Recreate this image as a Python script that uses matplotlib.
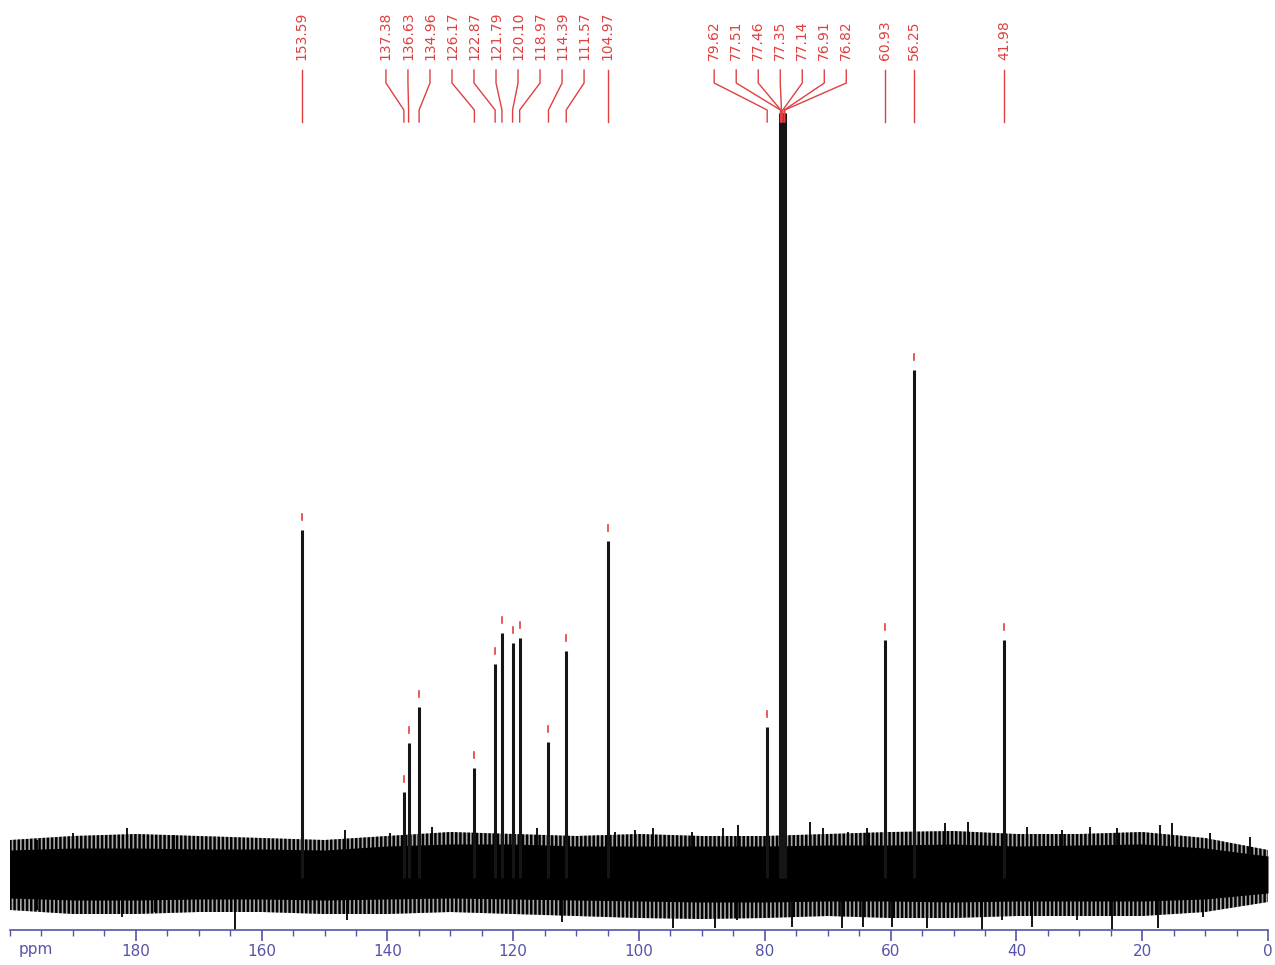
import matplotlib
matplotlib.use("Agg")
import matplotlib.pyplot as plt
import numpy as np

# peak list (ppm) and peak heights (baseline = 0)
peak_ppm = [153.59, 137.38, 136.63, 134.96, 126.17, 122.87, 121.79, 120.10,
            118.97, 114.39, 111.57, 104.97, 79.62, 77.51, 77.46, 77.35,
            77.14, 76.91, 76.82, 60.93, 56.25, 41.98]
peak_height = [348, 86, 135, 171, 110, 214, 245, 235,
               240, 136, 227, 337, 151, 765, 765, 765,
               765, 765, 765, 238, 508, 238]
solvent = [77.51, 77.46, 77.35, 77.14, 76.91, 76.82]   # CDCl3, no pick marker

# baseline noise: solid core, outer fringe, and the spikes that stick out
env_ppm = [200, 190, 180, 170, 160, 150, 140, 130, 120, 110, 100,
           90, 80, 70, 60, 50, 40, 30, 20, 10, 0]
core_top = [28, 30, 30, 29, 29, 28, 32, 34, 34, 32, 32,
            32, 32, 33, 33, 34, 32, 33, 34, 30, 22]
core_bot = [-20, -22, -22, -21, -21, -22, -21, -20, -21, -22, -23,
            -24, -24, -23, -23, -24, -23, -23, -23, -21, -15]
fringe_top = [38, 42, 44, 42, 40, 38, 42, 46, 44, 42, 44,
              42, 42, 44, 46, 47, 44, 44, 46, 40, 28]
fringe_bot = [-32, -36, -36, -34, -34, -36, -36, -34, -36, -38, -40,
              -41, -40, -38, -40, -40, -38, -38, -38, -34, -24]

up_ppm = [195.7, 190.0, 181.4, 174.0, 146.7, 139.6, 132.9, 116.2, 103.8, 100.6,
          97.8, 91.6, 86.6, 84.3, 72.8, 70.7, 66.8, 63.8, 51.4, 47.7,
          38.3, 32.8, 28.3, 24.0, 17.2, 15.3, 9.2, 2.9]
up_h = [38, 45, 50, 43, 48, 45, 51, 50, 46, 48,
        50, 46, 50, 53, 56, 50, 46, 50, 55, 56,
        51, 48, 51, 50, 53, 55, 45, 41]
down_ppm = [195.7, 182.2, 177.0, 164.2, 146.4, 123.7, 112.2, 94.6, 87.9, 84.4,
            75.7, 67.7, 64.4, 59.8, 54.2, 45.5, 42.3, 37.5, 30.4, 24.8,
            17.5, 10.3]
down_h = [-32, -39, -34, -52, -42, -34, -44, -50, -50, -42,
          -49, -50, -49, -49, -50, -52, -42, -49, -42, -52,
          -50, -39]

major_ticks = [180, 160, 140, 120, 100, 80, 60, 40, 20, 0]

red = "#e04040"
blue = "#5454aa"
ink = "#151515"

plt.rcParams["hatch.linewidth"] = 1.8
plt.rcParams["hatch.color"] = "black"

fig = plt.figure(figsize=(12.75, 9.65), dpi=100)
ax = fig.add_axes([10/1275, 35/965, 1258/1275, 930/965])
ax.set_xlim(200, 0)
ax.set_ylim(-52, 878)

# noise band (fringe is hatched so it reads as dense noise hairs)
ax.fill_between(env_ppm, fringe_bot, fringe_top, facecolor="#a8a8a8",
                edgecolor="black", hatch="||||", lw=0)
ax.fill_between(env_ppm, core_bot, core_top, color="black", lw=0)
ax.vlines(up_ppm, 0, up_h, color="black", lw=1.3)
ax.vlines(down_ppm, 0, down_h, color="black", lw=1.3)

# peaks
ax.vlines(peak_ppm, 0, peak_height, color=ink, lw=2.2)

# pick markers above peaks
for p, h in zip(peak_ppm, peak_height):
    if p in solvent:
        continue
    ax.plot([p, p], [h + 10, h + 16], color=red, lw=1.2)

# spread label positions so that they do not collide
gap = 3.5
clusters = [[p] for p in peak_ppm]
changed = True
while changed:
    changed = False
    spots = []
    for c in clusters:
        mid = np.mean(c)
        spots.append([mid + gap * ((len(c) - 1) / 2 - i) for i in range(len(c))])
    for i in range(len(clusters) - 1):
        if spots[i][-1] - spots[i + 1][0] < gap:
            clusters[i] = clusters[i] + clusters[i + 1]
            del clusters[i + 1]
            changed = True
            break
label_x = [x for s in spots for x in s]

trans = ax.get_xaxis_transform()
for p, lx in zip(peak_ppm, label_x):
    ax.text(lx, (930 - 60) / 930, f"{p:.2f}", rotation=90, ha="center",
            va="bottom", color=red, fontsize=10, transform=trans)
    ax.plot([lx, lx, p, p], [808, 795, 768, 756], color=red, lw=1)

# axis styling
for s in ["top", "left", "right"]:
    ax.spines[s].set_visible(False)
ax.spines["bottom"].set_color(blue)
ax.spines["bottom"].set_linewidth(1.2)
ax.set_yticks([])
ax.set_xticks(major_ticks)
ax.set_xticks(np.arange(0, 201, 5), minor=True)
ax.tick_params(axis="x", which="major", length=8, width=1.2, color=blue,
               labelcolor=blue, labelsize=11, pad=2)
ax.tick_params(axis="x", which="minor", length=4, width=1, color=blue)
ax.text(198.7, -64, "ppm", color=blue, fontsize=11, ha="left", va="top")

fig.savefig("out.png", dpi=100)
